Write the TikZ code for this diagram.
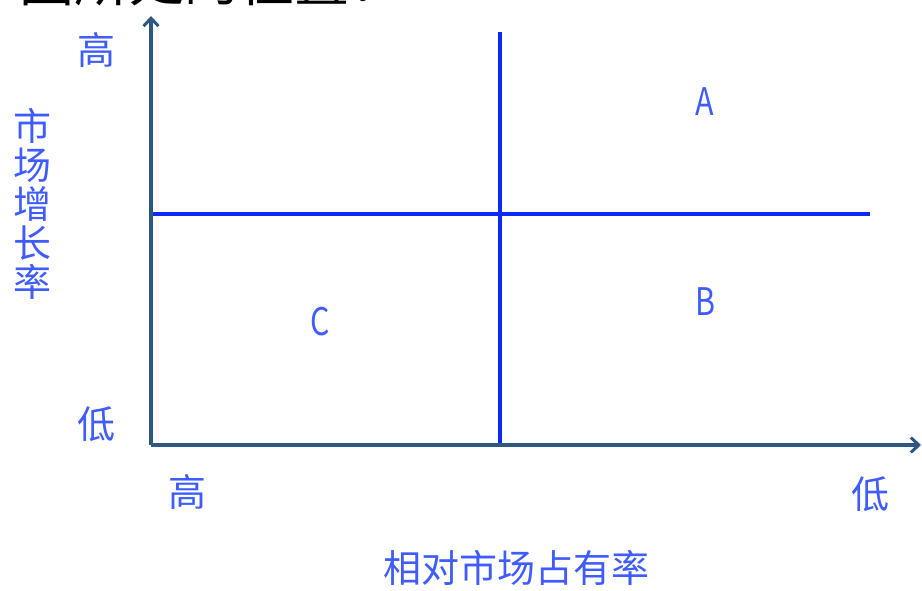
\documentclass[tikz,border=0pt]{standalone}
\usepackage{fontspec}
\newfontfamily\cjk{Noto Sans CJK SC}
\usetikzlibrary{arrows.meta}
\definecolor{axiscol}{RGB}{46,88,130}
\definecolor{linecol}{RGB}{12,42,245}
\definecolor{labcol}{RGB}{62,92,255}
\tikzset{
  axisline/.style={draw=axiscol, line width=3.6pt, -{Straight Barb[length=8pt,width=15pt,line width=3pt]}},
  divline/.style={draw=linecol, line width=3.8pt},
  lab/.style={text=labcol, inner sep=0pt, font=\cjk\fontsize{38}{39}\selectfont},
  letter/.style={text=labcol, inner sep=0pt, font=\cjk\fontsize{38}{39}\selectfont},
}
\begin{document}
\begin{tikzpicture}[x=1pt,y=-1pt]
\useasboundingbox (0,0) rectangle (922,591);
\clip (0,0) rectangle (922,591);
% cut-off caption at top
\node[anchor=base west, inner sep=0pt, font=\cjk\fontsize{55}{56}\selectfont] (cap) at (-36,2) {下图所处的位置：};
% coordinates
\coordinate (O) at (151,445);
\coordinate (ytop) at (151,16);
\coordinate (xend) at (921,445);
\coordinate (vtop) at (500,32);
\coordinate (vbot) at (500,445);
\coordinate (hl) at (151,214);
\coordinate (hr) at (870,214);
% divider lines
\draw[divline] (vtop) -- (vbot);
\draw[divline] (hl) -- (hr);
% axes
\draw[axisline] (O) -- (ytop);
\draw[axisline] (O) -- (xend);
% labels
\node[lab] (yhigh) at (96,50) {高};
\node[lab] (ylow) at (96,424) {低};
\node[lab, align=center] (ylabel) at (32,204) {市\\场\\增\\长\\率};
\node[lab] (xhigh) at (187,492) {高};
\node[lab] (xlow) at (870,494) {低};
\node[lab] (xlabel) at (516,568) {相对市场占有率};
\node[letter] (A) at (705,102) {\scalebox{0.8}[1]{A}};
\node[letter] (B) at (705,302) {\scalebox{0.8}[1]{B}};
\node[letter] (C) at (320,322) {\scalebox{0.8}[1]{C}};
\end{tikzpicture}
\end{document}
